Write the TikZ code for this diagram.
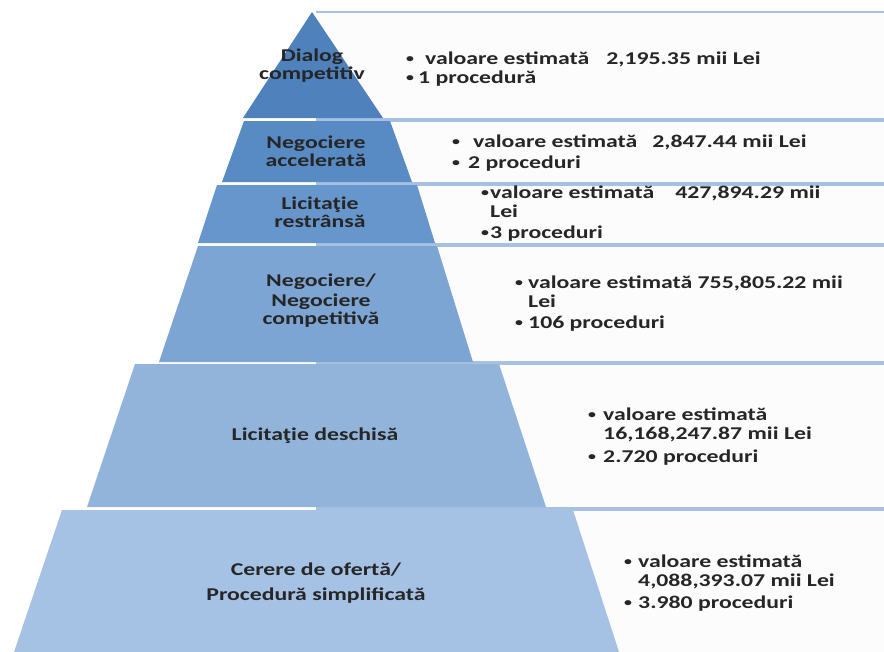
\documentclass[tikz,border=0pt]{standalone}
\usepackage{fontspec}
\setmainfont{Carlito}[FakeStretch=1.32]
\definecolor{cA}{RGB}{79,129,189}
\definecolor{cB}{RGB}{88,138,196}
\definecolor{cC}{RGB}{103,150,204}
\definecolor{cD}{RGB}{124,165,212}
\definecolor{cE}{RGB}{146,180,219}
\definecolor{cF}{RGB}{165,193,228}
\definecolor{txt}{RGB}{38,38,38}
\definecolor{boxline}{RGB}{167,193,226}
\definecolor{boxfill}{RGB}{252,252,252}
\tikzset{
  lbl/.style={inner sep=0pt, anchor=base, text=txt, font=\fontsize{18}{18}\selectfont\bfseries},
  info/.style={inner sep=0pt, anchor=base west, text=txt, font=\fontsize{18}{19}\selectfont\bfseries},
  panel/.style={fill=boxfill},
  panelline/.style={draw=boxline, line width=1.3pt}
}
\newcommand{\bul}[1]{\makebox[#1][l]{\raisebox{1.5pt}{\fontsize{12}{12}\selectfont •}}}
\begin{document}
\begin{tikzpicture}[x=1pt,y=-1pt]
\useasboundingbox (0,0) rectangle (884,651);
\fill[white] (0,0) rectangle (884,651);
% text panels behind the pyramid
\foreach \t/\b in {12/119, 121/183, 185/244, 246/362, 364/508, 510/662} {
  \fill[panel] (316,\t) rectangle (890,\b);
  \draw[panelline] (316,\t) -- (890,\t) (316,\b) -- (890,\b);
}
% pyramid levels
\fill[cA] (312,12) -- (383,118) -- (243,118) -- cycle;
\fill[cB] (244,121) -- (390,121) -- (412,182) -- (222,182) -- cycle;
\fill[cC] (217,185) -- (417,185) -- (435,243) -- (198,243) -- cycle;
\fill[cD] (198,246) -- (437,246) -- (473,362) -- (159,362) -- cycle;
\fill[cE] (135,364) -- (499,364) -- (546,507) -- (87,507) -- cycle;
\fill[cF] (62,510) -- (573,510) -- (620,655) -- (13,655) -- cycle;
% pyramid labels
\node[lbl] (l1) at (312,61) {\begin{tabular}[t]{@{}c@{}}Dialog\\competitiv\end{tabular}};
\node[lbl] (l2) at (316,148) {\begin{tabular}[t]{@{}c@{}}Negociere\\accelerată\end{tabular}};
\node[lbl] (l3) at (320,209) {\begin{tabular}[t]{@{}c@{}}Licitaţie\\restrânsă\end{tabular}};
\node[lbl] (l4) at (321,286) {\begin{tabular}[t]{@{}c@{}}Negociere/\\[2pt]Negociere\\competitivă\end{tabular}};
\node[lbl] (l5) at (315,440) {Licitaţie deschisă};
\node[lbl] (l6) at (316,575) {\begin{tabular}[t]{@{}c@{}}Cerere de ofertă/\\[7pt]Procedură simplificată\end{tabular}};
% info texts
\node[info] (i1) at (406,64) {\begin{tabular}[t]{@{}l@{}l@{}}\bul{12pt}&\hspace{7pt}valoare estimată\hspace{17pt}2,195.35 mii Lei\\\bul{12pt}&1 procedură\end{tabular}};
\node[info] (i2) at (452,147) {\begin{tabular}[t]{@{}l@{}l@{}}\bul{16pt}&\hspace{5pt}valoare estimată\hspace{15pt}2,847.44 mii Lei\\[2pt]\bul{16pt}&2 proceduri\end{tabular}};
\node[info] (i3) at (481,198) {\begin{tabular}[t]{@{}l@{}l@{}}\bul{9pt}&valoare estimată\hspace{21pt}427,894.29 mii\\&Lei\\[2pt]\bul{9pt}&3 proceduri\end{tabular}};
\node[info] (i4) at (515,288) {\begin{tabular}[t]{@{}l@{}l@{}}\bul{13pt}&valoare estimată 755,805.22 mii\\&Lei\\[2pt]\bul{13pt}&106 proceduri\end{tabular}};
\node[info] (i5) at (588,420) {\begin{tabular}[t]{@{}l@{}l@{}}\bul{15pt}&valoare estimată\\&16,168,247.87 mii Lei\\[4pt]\bul{15pt}&2.720 proceduri\end{tabular}};
\node[info] (i6) at (624,567) {\begin{tabular}[t]{@{}l@{}l@{}}\bul{14pt}&valoare estimată\\&4,088,393.07 mii Lei\\[3pt]\bul{14pt}&3.980 proceduri\end{tabular}};
\end{tikzpicture}
\end{document}
